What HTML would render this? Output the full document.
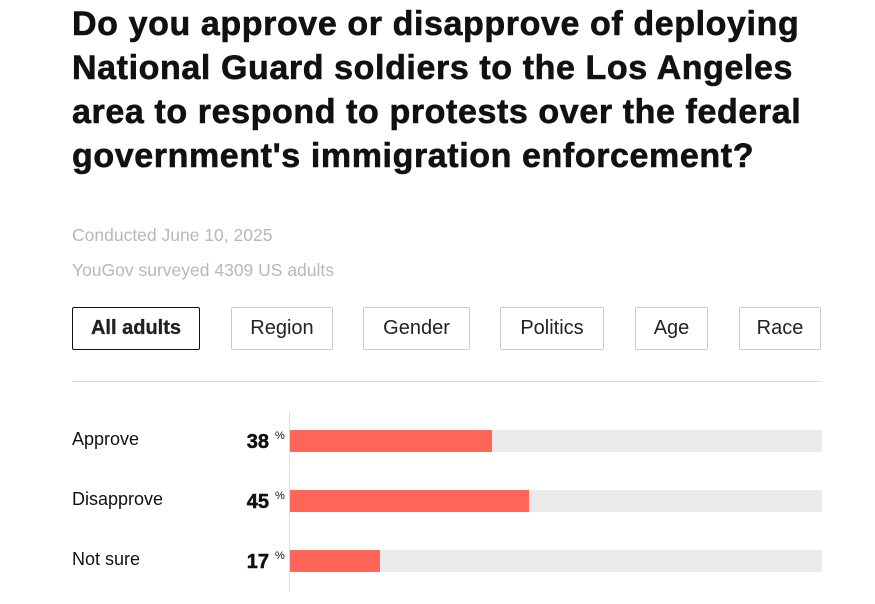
<!DOCTYPE html>
<html><head><style>
body{margin:0;background:#fff;width:875px;height:604px;overflow:hidden;font-family:"Liberation Sans",sans-serif;color:#111;}
.t{position:absolute;left:72px;top:2px;font-weight:bold;font-size:34px;line-height:44px;letter-spacing:0.6px;white-space:nowrap;-webkit-text-stroke:0.6px #111;}
.g{position:absolute;left:72px;color:#b8b8b8;font-size:17.5px;}
.b{position:absolute;top:307px;height:43px;box-sizing:border-box;border:1px solid #ccc;border-radius:2px;font-size:20px;display:flex;align-items:center;justify-content:center;color:#222;}
.sel{border:1.5px solid #111;font-weight:bold;-webkit-text-stroke:0.3px #111;}
.l{position:absolute;left:72px;font-size:18px;}
.n{position:absolute;right:606px;font-size:20px;font-weight:bold;-webkit-text-stroke:0.5px #111;}
.p{position:absolute;left:275px;font-size:11px;}
.bg{position:absolute;left:290px;width:532px;height:22px;background:#ebebeb;}
.f{position:absolute;left:0;top:0;height:22px;background:#ff6659;}
</style></head><body>
<div class="t">Do you approve or disapprove of deploying<br>National Guard soldiers to the Los Angeles<br>area to respond to protests over the federal<br>government's immigration enforcement?</div>
<div class="g" style="top:225px">Conducted June 10, 2025</div>
<div class="g" style="top:260px">YouGov surveyed 4309 US adults</div>
<div class="b sel" style="left:72px;width:128px">All adults</div>
<div class="b" style="left:231px;width:102px">Region</div>
<div class="b" style="left:363px;width:107px">Gender</div>
<div class="b" style="left:500px;width:104px">Politics</div>
<div class="b" style="left:635px;width:73px">Age</div>
<div class="b" style="left:739px;width:82px">Race</div>
<div style="position:absolute;left:72px;top:381px;width:750px;height:1px;background:#ddd"></div>
<div style="position:absolute;left:289px;top:412px;width:1px;height:180px;background:#ddd"></div>
<div class="l" style="top:429px">Approve</div>
<div class="n" style="top:431px">38</div><div class="p" style="top:430px">%</div>
<div class="bg" style="top:430px"><div class="f" style="width:202px"></div></div>
<div class="l" style="top:489px">Disapprove</div>
<div class="n" style="top:491px">45</div><div class="p" style="top:490px">%</div>
<div class="bg" style="top:490px"><div class="f" style="width:239px"></div></div>
<div class="l" style="top:549px">Not sure</div>
<div class="n" style="top:551px">17</div><div class="p" style="top:550px">%</div>
<div class="bg" style="top:550px"><div class="f" style="width:90px"></div></div>
</body></html>
